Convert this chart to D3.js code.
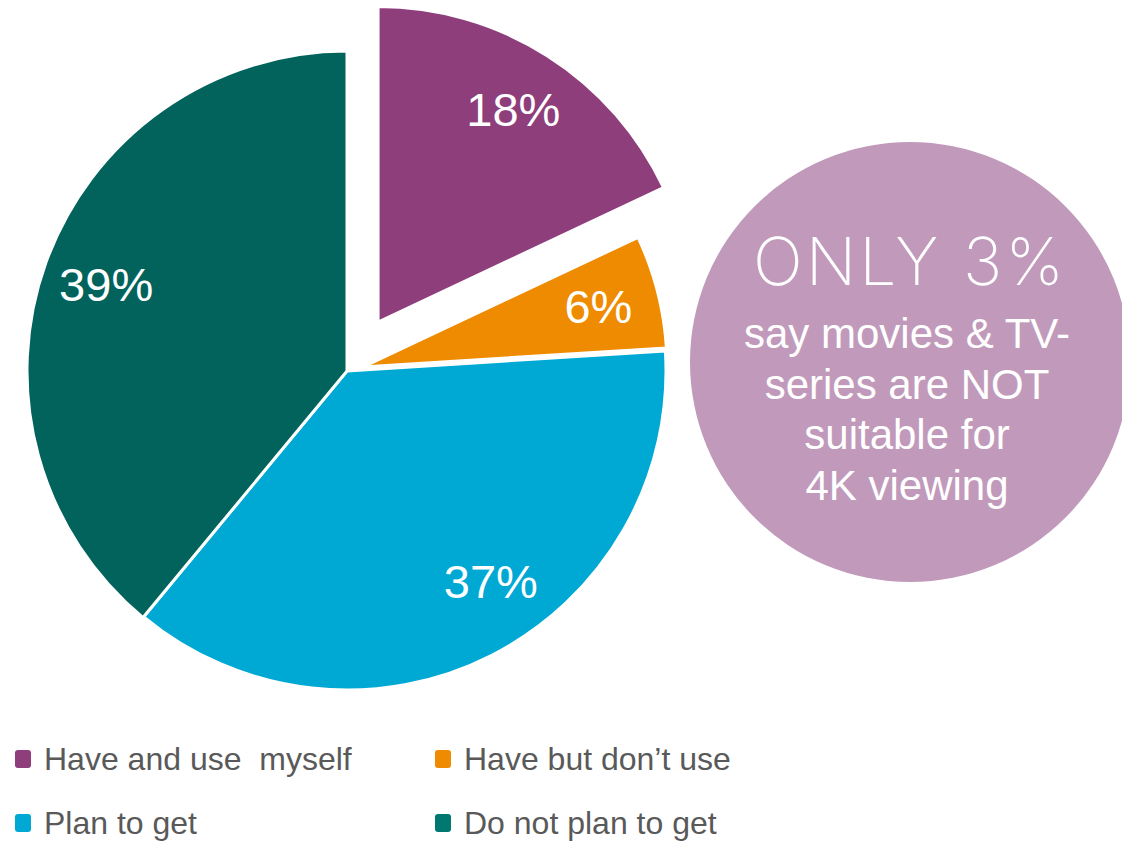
<!DOCTYPE html>
<html>
<head>
<meta charset="utf-8">
<script src="https://cdn.jsdelivr.net/npm/d3@7"></script>
<style>
  html, body { margin: 0; padding: 0; background: #ffffff; }
  svg { display: block; }
</style>
</head>
<body>
<svg id="chart" width="1122" height="842"></svg>
<script>
// Survey answers about 4K TV ownership
const categories = ["Have and use  myself", "Have but don\u2019t use", "Plan to get", "Do not plan to get"];
const shares = [18, 6, 37, 39];
const valueLabels = ["18%", "6%", "37%", "39%"];

// Callout text
const calloutHeadline = "ONLY 3%";
const calloutLines = ["say movies & TV-", "series are NOT", "suitable for", "4K viewing"];

// Presentation settings per slice (same order as categories)
const sliceColors = ["#8E3E7B", "#EF8B00", "#00A8D4", "#01635C"];
const legendColors = ["#8E3E7B", "#EF8B00", "#00A8D4", "#00786F"];
const sliceExplode = [58, 16, 0, 0];
const sliceRadius = [315.5, 304.5, 319, 320];
const labelNudge = [[0, 0], [0, 0], [28, -17], [0, 0]];

const svg = d3.select("#chart");
const cx = 347, cy = 371;

const pie = d3.pie().sort(null).value(d => d.value).startAngle(0).endAngle(2 * Math.PI);
const rows = categories.map((c, i) => ({ name: c, value: shares[i], label: valueLabels[i], i }));
const arcs = pie(rows);

const pieG = svg.append("g").attr("transform", `translate(${cx},${cy})`);

const slice = pieG.selectAll("g.slice").data(arcs).join("g")
  .attr("class", "slice")
  .attr("transform", d => {
    const mid = (d.startAngle + d.endAngle) / 2;
    const e = sliceExplode[d.data.i];
    return `translate(${e * Math.sin(mid)},${-e * Math.cos(mid)})`;
  });

slice.append("path")
  .attr("d", d => d3.arc().innerRadius(0).outerRadius(sliceRadius[d.data.i])(d))
  .attr("fill", d => sliceColors[d.data.i])
  .attr("stroke", "#ffffff")
  .attr("stroke-width", 3)
  .attr("stroke-linejoin", "miter");

slice.append("text")
  .attr("transform", d => {
    const r = sliceRadius[d.data.i] * 0.8;
    const c = d3.arc().innerRadius(r).outerRadius(r).centroid(d);
    const n = labelNudge[d.data.i];
    return `translate(${c[0] + n[0]},${c[1] + n[1]})`;
  })
  .attr("text-anchor", "middle")
  .attr("dy", "0.36em")
  .attr("font-family", "Liberation Sans, Arial, sans-serif")
  .attr("font-size", 47)
  .attr("fill", "#ffffff")
  .text(d => d.data.label);

// Callout bubble
const bubble = svg.append("g").attr("transform", "translate(910,362)");
bubble.append("circle").attr("r", 220).attr("fill", "#C19ABB");
bubble.append("text")
  .attr("x", 0).attr("y", -77)
  .attr("text-anchor", "middle")
  .attr("font-family", "Inter, Lato, sans-serif")
  .attr("font-weight", 200)
  .attr("font-size", 66)
  .attr("letter-spacing", 3)
  .attr("fill", "#ffffff")
  .text(calloutHeadline);
bubble.selectAll("text.line").data(calloutLines).join("text")
  .attr("class", "line")
  .attr("x", -3)
  .attr("y", (d, i) => -14 + i * 50.5)
  .attr("text-anchor", "middle")
  .attr("font-family", "Liberation Sans, Arial, sans-serif")
  .attr("font-size", 42)
  .attr("fill", "#ffffff")
  .text(d => d);

// Legend: two columns, two rows
const legendCol = d3.scaleOrdinal().domain([0, 1]).range([15, 435]);
const legendRow = d3.scaleOrdinal().domain([0, 1]).range([770, 834]);
const legend = svg.selectAll("g.legend").data(rows).join("g")
  .attr("class", "legend")
  .attr("transform", d => `translate(${legendCol(d.i % 2)},${legendRow(Math.floor(d.i / 2))})`);
legend.append("rect")
  .attr("x", 0).attr("y", -20)
  .attr("width", 16).attr("height", 18)
  .attr("rx", 3)
  .attr("fill", d => legendColors[d.i]);
legend.append("text")
  .attr("x", 29).attr("y", 0)
  .attr("font-family", "Liberation Sans, Arial, sans-serif")
  .attr("font-size", 32)
  .attr("fill", "#595959")
  .attr("xml:space", "preserve")
  .style("white-space", "pre")
  .text(d => d.name);
</script>
</body>
</html>
